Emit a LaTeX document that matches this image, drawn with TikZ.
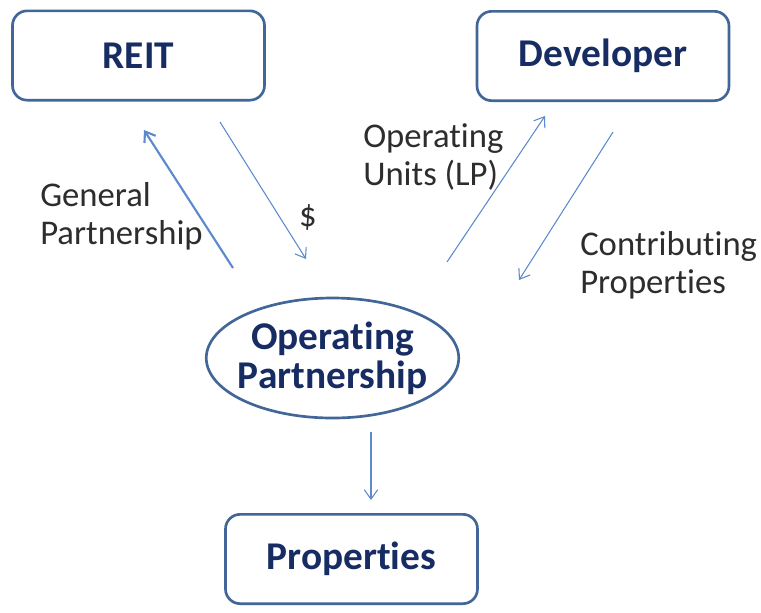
\documentclass[tikz,border=0pt]{standalone}
\usepackage{fontspec}
\setmainfont{Carlito}[Ligatures=NoCommon]
\usetikzlibrary{shapes,arrows.meta,positioning}
\definecolor{boxline}{RGB}{66,102,152}
\definecolor{boxtext}{RGB}{22,44,98}
\definecolor{flow}{RGB}{92,138,204}
\definecolor{note}{RGB}{45,45,45}
\tikzset{
	entity/.style={draw=boxline, line width=2pt, rounded corners=11pt,
		minimum width=189pt, minimum height=67pt, inner sep=0pt,
		text=boxtext, font=\fontsize{29.5}{31}\selectfont\bfseries},
	hub/.style={ellipse, draw=boxline, line width=2pt,
		minimum width=188pt, minimum height=90pt, inner xsep=-4pt, inner ysep=0pt,
		align=center, text=boxtext, font=\fontsize{29.5}{30}\selectfont\bfseries},
	tag/.style={text=note, inner sep=0pt, align=left,
		font=\fontsize{26}{28.5}\selectfont},
	flow/.style={draw=flow, line width=0.8pt, -{Straight Barb[length=7pt,width=10pt]}},
}
\begin{document}
\begin{tikzpicture}[x=0.75pt,y=-0.75pt]
	\useasboundingbox (0,0) rectangle (761,612);
	% boxes
	\node[entity] (reit) at (138.5,55.5) {REIT};
	\node[entity] (dev) at (603,56) {Developer};
	\node[hub] (opp) at (332.5,358) {Operating\\[-1pt]Partnership};
	\node[entity] (prop) at (351.5,559) {Properties};
	% arrow ends
	\coordinate (gp-a) at (233,268);
	\coordinate (gp-b) at (144,130);
	\coordinate (cash-a) at (220,122);
	\coordinate (cash-b) at (306,259);
	\coordinate (ou-a) at (447,262);
	\coordinate (ou-b) at (545,116);
	\coordinate (cp-a) at (613,132);
	\coordinate (cp-b) at (519,280);
	\coordinate (down-a) at (371,432);
	\coordinate (down-b) at (371,500);
	% labels
	\node[tag, anchor=west] (gp) at (40,216) {General\\Partnership};
	\node[tag] (cash) at (308,217) {\$};
	\node[tag, anchor=west] (ou) at (363,157) {Operating\\Units (LP)};
	\node[tag, anchor=west] (cp) at (580,265) {Contributing\\Properties};
	% Arrows
	\draw[flow, line width=1.6pt] (gp-a) -- (gp-b);
	\draw[flow] (cash-a) -- (cash-b);
	\draw[flow] (ou-a) -- (ou-b);
	\draw[flow] (cp-a) -- (cp-b);
	\draw[flow] (down-a) -- (down-b);
\end{tikzpicture}
\end{document}
